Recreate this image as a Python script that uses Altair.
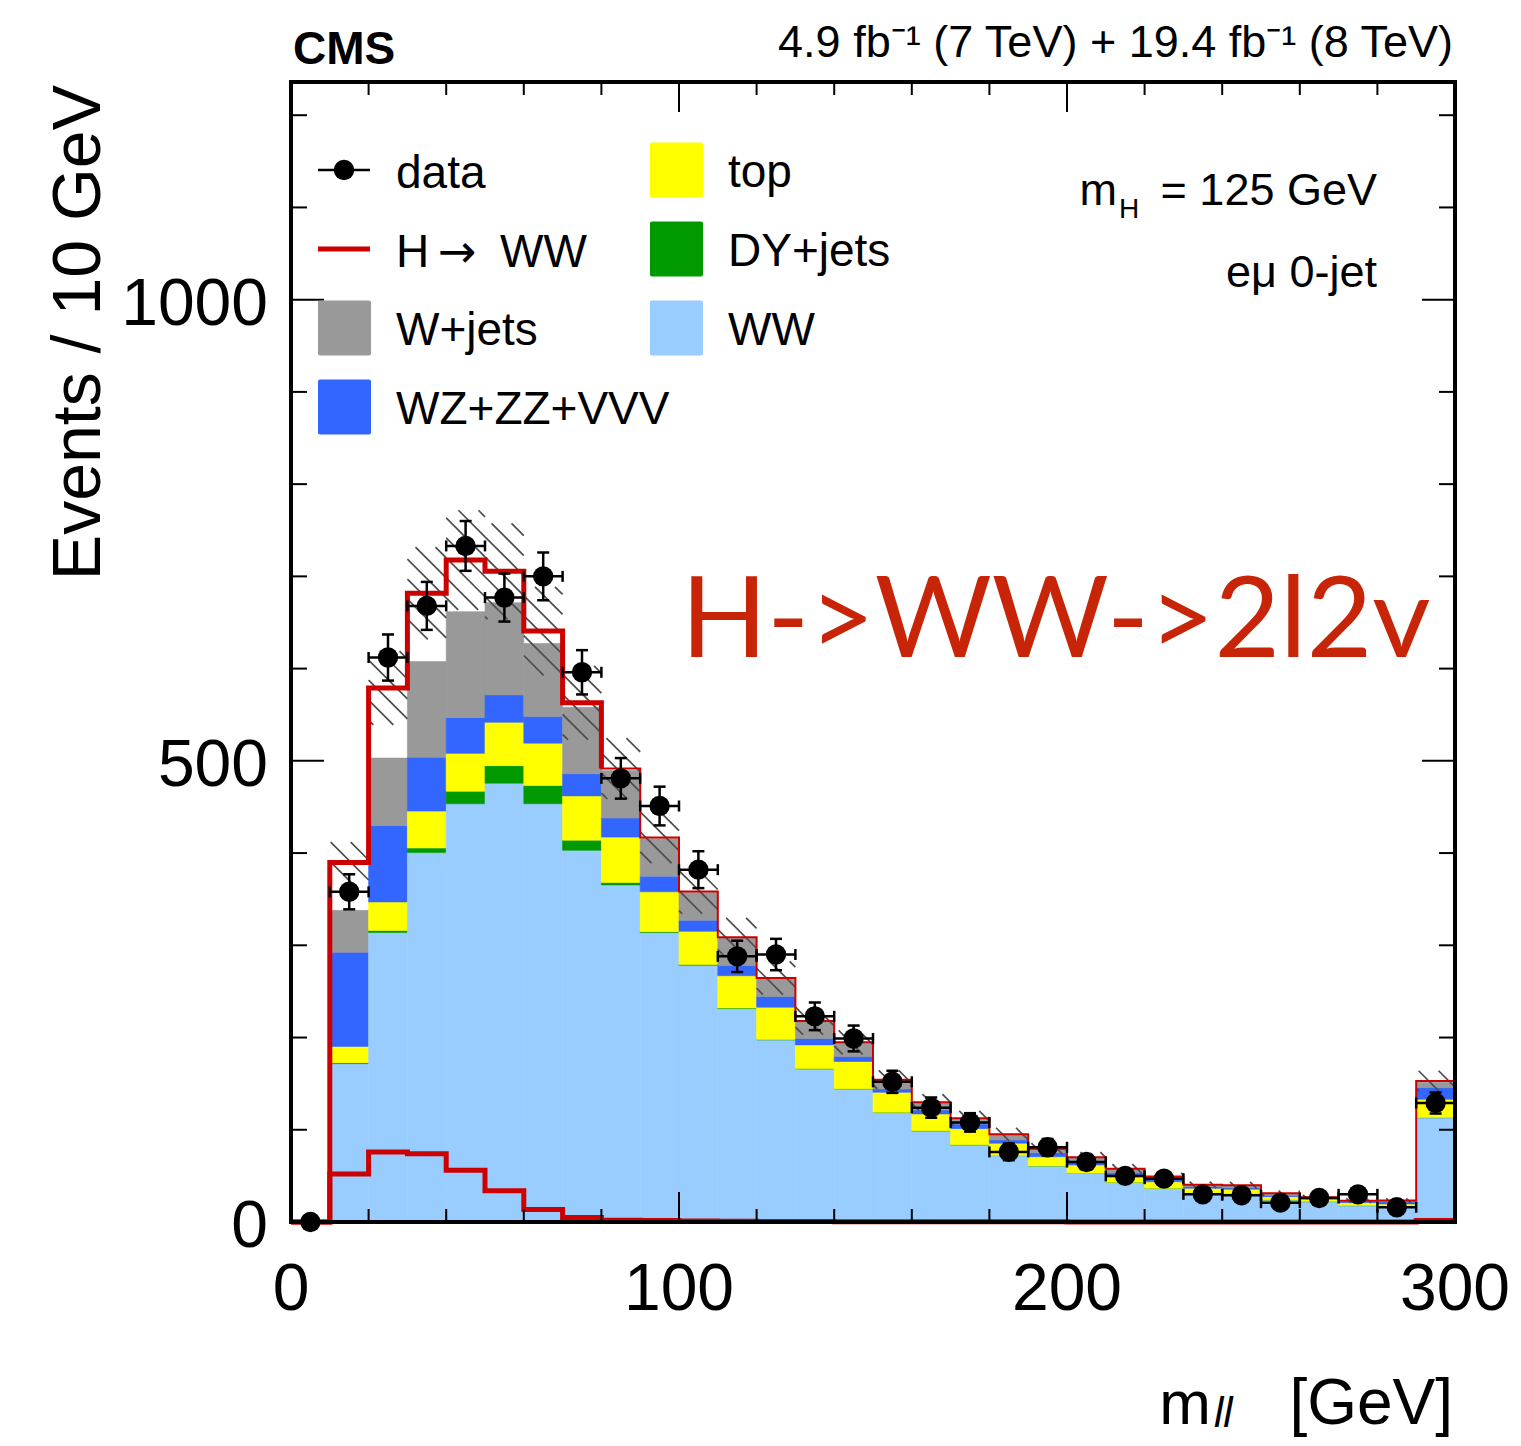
import altair as alt
import pandas as pd

# ---------------- data ----------------
bin_lo = list(range(0, 300, 10))          # lower bin edges [GeV]
BIN_W = 10

ww    = [0, 171.7, 314.0, 400.5, 453.5, 475.8, 453.5, 403.0, 365.5, 313.8, 278.4, 231.4, 197.4, 166.0, 144.3,
         118.6, 98.7, 83.5, 72.0, 60.7, 52.8, 43.0, 36.5, 31.0, 30.4, 23.9, 22.0, 17.7, 15.9, 113.0]
dyj   = [0, 1.0, 2.0, 5.0, 13.6, 19.0, 19.7, 11.0, 2.5, 1.0, 0.8, 0.6, 0.5, 0.4, 0.3,
         0.3, 0.2, 0.2, 0.2, 0.1, 0.1, 0.1, 0.1, 0.1, 0.1, 0.1, 0.1, 0.1, 0.1, 0.3]
top   = [0, 17.7, 31.0, 40.0, 41.0, 47.0, 46.0, 48.0, 49.3, 43.2, 36.0, 35.0, 35.0, 25.6, 29.4,
         21.7, 18.2, 17.5, 13.2, 9.9, 8.9, 5.9, 7.0, 5.4, 4.9, 3.5, 2.9, 3.2, 3.5, 19.7]
wzzz  = [0, 102.0, 83.0, 58.5, 39.0, 29.7, 29.0, 24.0, 20.6, 17.0, 12.0, 11.0, 11.6, 7.0, 5.4,
         3.6, 4.3, 5.0, 3.6, 4.3, 3.6, 4.3, 2.5, 2.0, 1.8, 1.5, 0.7, 1.0, 2.5, 12.7]
wjets = [0, 45.5, 73.0, 103.6, 114.6, 100.0, 79.0, 72.0, 51.7, 40.5, 30.0, 30.0, 19.5, 18.5, 15.0,
         9.8, 8.0, 6.0, 6.0, 4.3, 4.7, 4.3, 3.0, 1.7, 2.6, 2.0, 1.1, 1.0, 1.1, 5.8]
hww   = [0, 52, 76, 74, 56, 34, 13.5, 5, 2, 1.5, 1, 0.8, 0.6, 0.5, 0.4,
         0.3, 0.3, 0.2, 0.2, 0.2, 0.1, 0.1, 0.1, 0.1, 0.1, 0.1, 0.1, 0.1, 0.1, 1.5]
unc   = [0, 22, 40, 50, 54, 52, 48, 40, 33, 28, 24, 21, 18, 15, 13,
         10, 9, 8, 7, 6, 5.5, 5, 4, 3.5, 3.5, 3, 2.5, 2.5, 2.5, 11]

data_y   = [0, 358, 612, 668, 733, 677, 700, 596, 481, 451, 382, 288, 290, 223, 199,
            152, 124, 108, 76, 81, 65, 50, 47, 30, 29, 21, 26, 30, 16, 129]
data_err = [0, 19, 25, 26, 27, 26, 26, 24, 22, 21, 20, 17, 17, 15, 14,
            12, 11, 10, 9, 9, 8, 7, 7, 5.5, 5.4, 4.6, 5.1, 5.5, 4, 11.4]

components = ["WW", "DY+jets", "top", "WZ+ZZ+VVV", "W+jets"]      # stack order, bottom to top
comp_vals  = [ww, dyj, top, wzzz, wjets]
comp_cols  = ["#99CCFF", "#009900", "#FFFF00", "#3366FF", "#999999"]

x_labels = [0, 100, 200, 300]
y_labels = [0, 500, 1000]
x_minor = [20, 40, 60, 80, 120, 140, 160, 180, 220, 240, 260, 280]
x_major = [100, 200]
y_minor = [100, 200, 300, 400, 600, 700, 800, 900, 1100, 1200]
y_major = [500, 1000]

# ---------------- layout / style ----------------
W, H = 1164, 1140
YMAX = 1236
FONT = "Liberation Sans"
RED = "#CC0000"

xs = alt.Scale(domain=[0, 300], nice=False, zero=False)
ys = alt.Scale(domain=[0, YMAX], nice=False, zero=False)

def X(f):
    return alt.X(f, scale=xs, axis=None)

def Y(f):
    return alt.Y(f, scale=ys, axis=None)

# ---------------- derived tables ----------------
rows = []
for i, lo in enumerate(bin_lo):
    base = 0.0
    for name, vals in zip(components, comp_vals):
        rows.append(dict(x0=lo, x1=lo + BIN_W, y0=base, y1=base + vals[i], comp=name))
        base += vals[i]
stack_df = pd.DataFrame(rows)

total = [sum(v[i] for v in comp_vals) + hww[i] for i in range(len(bin_lo))]

edges = bin_lo + [300]
tot_line = pd.DataFrame(dict(x=edges, y=total + [total[-1]]))
thick_line = pd.DataFrame(dict(x=edges[:9], y=total[:9]))
sig_line = pd.DataFrame(dict(x=edges, y=hww + [hww[-1]]))

# hatched uncertainty band (45 degree lines on screen), clipped to each bin's band
K = (W / 300.0) / (H / YMAX)       # events per GeV giving a 45 degree screen slope
STEP = K * 5.15                    # spacing of the hatch lines
seg = []
for i, lo in enumerate(bin_lo):
    if unc[i] <= 0:
        continue
    x0, x1 = lo, lo + BIN_W
    b_lo, b_hi = total[i] - unc[i], total[i] + unc[i]
    n0 = int((b_lo + K * x0) // STEP)
    n1 = int((b_hi + K * x1) // STEP) + 1
    for n in range(n0, n1 + 1):
        C = n * STEP
        xa = max(x0, (C - b_hi) / K)
        xb = min(x1, (C - b_lo) / K)
        if xb - xa > 0.05:
            seg.append(dict(xa=xa, ya=C - K * xa, xb=xb, yb=C - K * xb))
hatch_df = pd.DataFrame(seg)

pts = pd.DataFrame(dict(x=[l + BIN_W / 2 for l in bin_lo], xl=bin_lo, xh=[l + BIN_W for l in bin_lo],
                        y=data_y, lo=[a - b for a, b in zip(data_y, data_err)],
                        hi=[a + b for a, b in zip(data_y, data_err)]))
pts_e = pts[pts.y > 0]

# ---------------- layers ----------------
stack = alt.Chart(stack_df).mark_rect(strokeWidth=0.6).encode(
    x=X("x0:Q"), x2="x1:Q", y=Y("y0:Q"), y2="y1:Q",
    color=alt.Color("comp:N", scale=alt.Scale(domain=components, range=comp_cols), legend=None),
    stroke=alt.Stroke("comp:N", scale=alt.Scale(domain=components, range=comp_cols), legend=None),
)

hatch = alt.Chart(hatch_df).mark_rule(color="#4d4d4d", strokeWidth=1.7).encode(
    x=X("xa:Q"), y=Y("ya:Q"), x2="xb:Q", y2="yb:Q")

tot_thin = alt.Chart(tot_line).mark_line(interpolate="step-after", color=RED, strokeWidth=2).encode(
    x=X("x:Q"), y=Y("y:Q"))
tot_thick = alt.Chart(thick_line).mark_line(interpolate="step-after", color=RED, strokeWidth=5).encode(
    x=X("x:Q"), y=Y("y:Q"))
sig = alt.Chart(sig_line).mark_line(interpolate="step-after", color=RED, strokeWidth=5).encode(
    x=X("x:Q"), y=Y("y:Q"))

def tick_layer(vals, axis, length):
    df = pd.DataFrame(dict(v=vals))
    out = []
    if axis == "x":
        for y0, y1 in [(H - length, H), (0, length)]:
            out.append(alt.Chart(df).mark_rule(color="black", strokeWidth=2).encode(
                x=X("v:Q"), y=alt.value(y0), y2=alt.value(y1)))
    else:
        for x0, x1 in [(0, length), (W - length, W)]:
            out.append(alt.Chart(df).mark_rule(color="black", strokeWidth=2).encode(
                y=Y("v:Q"), x=alt.value(x0), x2=alt.value(x1)))
    return out

ticks = (tick_layer(x_minor, "x", 13) + tick_layer(x_major, "x", 30) +
         tick_layer(y_minor, "y", 16) + tick_layer(y_major, "y", 33))

# tick labels, placed through the scales
xlab = alt.Chart(pd.DataFrame(dict(v=x_labels))).mark_text(
    font=FONT, fontSize=66, align="center", baseline="alphabetic", color="black").encode(
    x=X("v:Q"), y=alt.value(H + 88), text="v:N")
ylab = alt.Chart(pd.DataFrame(dict(v=y_labels))).mark_text(
    font=FONT, fontSize=66, align="right", baseline="alphabetic", dy=25, color="black").encode(
    y=Y("v:Q"), x=alt.value(-23), text="v:N")

ebar_v = alt.Chart(pts_e).mark_rule(color="black", strokeWidth=2.5).encode(
    x=X("x:Q"), y=Y("lo:Q"), y2="hi:Q")
ebar_h = alt.Chart(pts_e).mark_rule(color="black", strokeWidth=2.5).encode(
    x=X("xl:Q"), x2="xh:Q", y=Y("y:Q"))
cap_lo = alt.Chart(pts_e).mark_tick(orient="horizontal", size=12, thickness=2.5, color="black", opacity=1).encode(
    x=X("x:Q"), y=Y("lo:Q"))
cap_hi = alt.Chart(pts_e).mark_tick(orient="horizontal", size=12, thickness=2.5, color="black", opacity=1).encode(
    x=X("x:Q"), y=Y("hi:Q"))
cap_l = alt.Chart(pts_e).mark_tick(orient="vertical", size=11, thickness=2.5, color="black", opacity=1).encode(
    x=X("xl:Q"), y=Y("y:Q"))
cap_r = alt.Chart(pts_e).mark_tick(orient="vertical", size=11, thickness=2.5, color="black", opacity=1).encode(
    x=X("xh:Q"), y=Y("y:Q"))
dots = alt.Chart(pts).mark_circle(size=415, color="black", opacity=1).encode(
    x=X("x:Q"), y=Y("y:Q"))

# frame around the plot area
frame = alt.Chart(pd.DataFrame({"a": [0]})).mark_rect(fill=None, stroke="black", strokeWidth=4).encode(
    x=alt.value(0), x2=alt.value(W), y=alt.value(0), y2=alt.value(H))

# ---------------- text ----------------
def T(text, x, y, size, align="left", baseline="alphabetic", font=FONT, weight="normal",
      style="normal", angle=0, color="black"):
    kw = dict(align=align, baseline=baseline, font=font, fontSize=size, fontWeight=weight,
              fontStyle=style, color=color)
    if angle:
        kw["angle"] = angle
    return alt.Chart(pd.DataFrame({"t": [text]})).mark_text(**kw).encode(
        text="t:N", x=alt.value(x), y=alt.value(y))

def box(x, y, w, h, col):
    return alt.Chart(pd.DataFrame({"a": [0]})).mark_rect(color=col, cornerRadius=2).encode(
        x=alt.value(x), x2=alt.value(x + w), y=alt.value(y), y2=alt.value(y + h))

def hline(x0, x1, y, col, sw):
    return alt.Chart(pd.DataFrame({"a": [0]})).mark_rule(color=col, strokeWidth=sw).encode(
        x=alt.value(x0), x2=alt.value(x1), y=alt.value(y))

texts = [
    T("CMS", 2, -18, 46, weight="bold"),
    T("4.9 fb\u207b\u00b9 (7 TeV) + 19.4 fb\u207b\u00b9 (8 TeV)", 1162, -25, 45, align="right"),
    T("Events / 10 GeV", -191, 3, 68, align="right", angle=270),
    T("[GeV]", 1162, 1342, 64, align="right"),
    T("ll", 923, 1345, 42, style="italic"),
    T("m", 920, 1342, 62, align="right"),
    T("= 125 GeV", 1086, 123, 45, align="right"),
    T("m", 826, 123, 45, align="right"),
    T("H", 828, 136, 28),
    T("e\u03bc 0-jet", 1086, 205, 45, align="right"),
    T("H->WW->2l2v", 390, 575, 113, font="Lato", color="#C82508"),
]

# legend (two columns)
LX = [27, 359]
ROW0, DROW = 88, 79
BW, BH = 53, 55
leg = []
leg.append(hline(LX[0], LX[0] + 52, ROW0, "black", 2.5))
leg.append(alt.Chart(pd.DataFrame({"a": [0]})).mark_circle(size=415, color="black", opacity=1).encode(
    x=alt.value(LX[0] + 26), y=alt.value(ROW0)))
leg.append(T("data", LX[0] + 78, ROW0 + 18, 46))
leg.append(hline(LX[0], LX[0] + 52, ROW0 + DROW, RED, 5))
leg.append(T("H", LX[0] + 78, ROW0 + DROW + 18, 46))
leg.append(T("\u2192", LX[0] + 120, ROW0 + DROW + 18, 46, font="DejaVu Sans"))
leg.append(T("WW", LX[0] + 182, ROW0 + DROW + 18, 46))
leg.append(box(LX[0], ROW0 + 2 * DROW - BH / 2, BW, BH, comp_cols[4]))
leg.append(T("W+jets", LX[0] + 78, ROW0 + 2 * DROW + 17, 46))
leg.append(box(LX[0], ROW0 + 3 * DROW - BH / 2, BW, BH, comp_cols[3]))
leg.append(T("WZ+ZZ+VVV", LX[0] + 78, ROW0 + 3 * DROW + 17, 46))
for r, (lab, ci) in enumerate([("top", 2), ("DY+jets", 1), ("WW", 0)]):
    leg.append(box(LX[1], ROW0 + r * DROW - BH / 2, BW, BH, comp_cols[ci]))
    leg.append(T(lab, LX[1] + 78, ROW0 + r * DROW + 17, 46))

layers = ([stack, hatch, tot_thin, tot_thick, sig] + ticks +
          [ebar_v, ebar_h, cap_lo, cap_hi, cap_l, cap_r, dots, frame, xlab, ylab] + texts + leg)

chart = alt.layer(*layers).properties(
    width=W, height=H,
    background="white",
    autosize=alt.AutoSizeParams(type="none"),
    padding={"left": 283, "top": 74, "right": 58, "bottom": 216},
).configure_view(stroke=None)

chart.save("out.html", embed_options={"renderer": "svg", "actions": False})
